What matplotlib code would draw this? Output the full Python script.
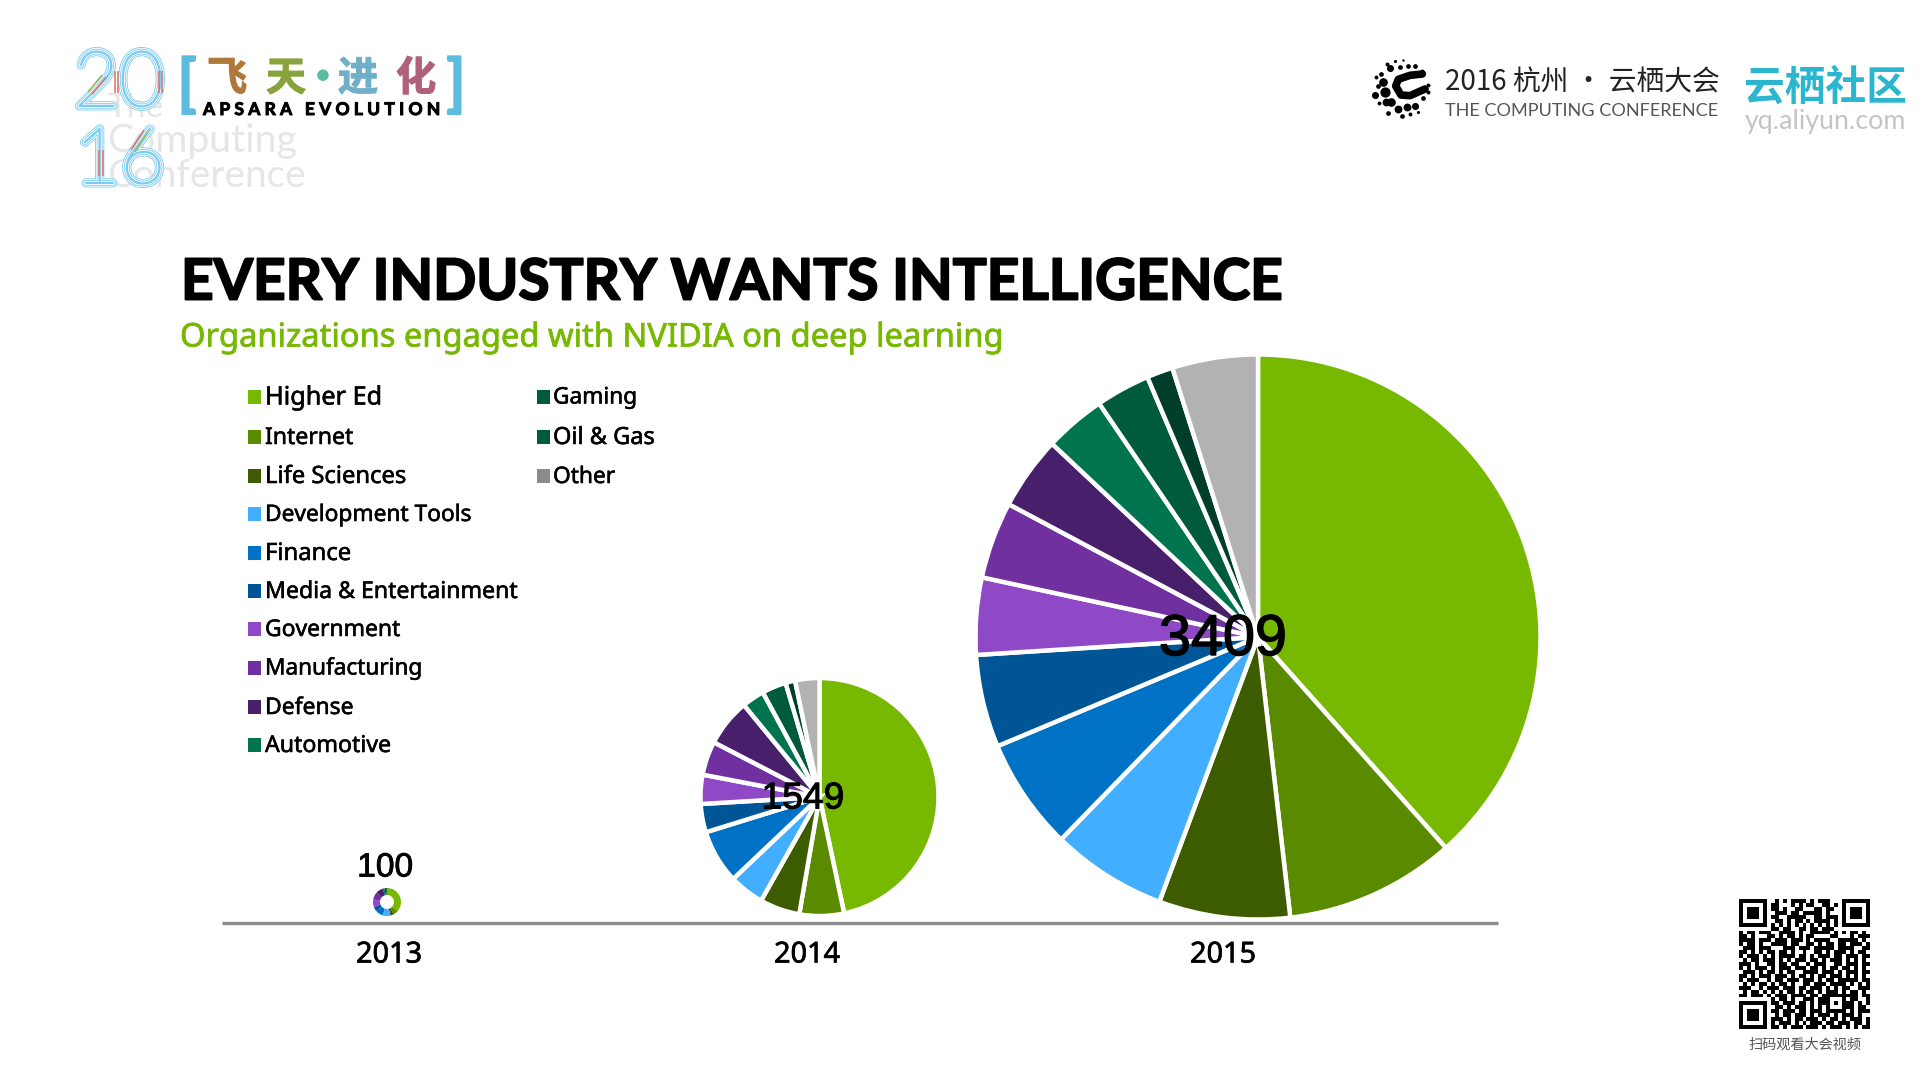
#!/usr/bin/env python3
import numpy as np
import matplotlib
matplotlib.use('Agg')
import matplotlib.pyplot as plt
import matplotlib.patheffects as pe
from matplotlib.patches import Rectangle

CJK = ['Noto Sans CJK SC', 'DejaVu Sans']
TXT = 'Noto Sans'

categories = ['Higher Ed', 'Internet', 'Life Sciences', 'Development Tools', 'Finance',
              'Media & Entertainment', 'Government', 'Manufacturing', 'Defense',
              'Automotive', 'Gaming', 'Oil & Gas', 'Other']
pie_colors = ['#76B900', '#5A8A00', '#3D5C00', '#42AEFF', '#0072C6', '#005596', '#9049C6',
              '#7030A0', '#481F6B', '#00734F', '#005A3C', '#003D2A', '#B2B2B2']
legend_colors = pie_colors[:-3] + ['#005A3C', '#005A3C', '#8C8C8C']

years = ['2013', '2014', '2015']
totals = [100, 1549, 3409]
# share of organisations per industry, percent
share_2013 = [37, 5, 4, 9, 9, 5, 9, 9, 8, 2, 2, 1, 0]
share_2014 = [46.7, 6.05, 5.45, 4.75, 7.3, 3.85, 3.95, 4.6, 6.45, 3.05, 3.3, 1.3, 3.3]
share_2015 = [38.4, 9.75, 7.5, 6.6, 6.4, 5.3, 4.4, 4.4, 4.2, 3.5, 3.1, 1.5, 4.9]

qr_rows = [
    "#######..#.#.####.#.###...#######",
    "#.....#.##...#.#.##..##.#.#.....#",
    "#.###.#.##.#..##...##.##..#.###.#",
    "#.###.#..###.##.#####.#...#.###.#",
    "#.###.#.##..#####..##.###.#.###.#",
    "#.....#..##.#.##.#.####.#.#.....#",
    "#######.#.#.#.#.#.#.#.#.#.#######",
    "........##.##..##.##.###.........",
    "#.##.###..####.#..#####.#.#.##.#.",
    "##.#...##.#.##.#.##....##...#.###",
    "####.###.###.###.#.####..#####.#.",
    "#.##.#..####.##..##.#.##.##.###.#",
    ".###.###...###.###.#####.####..##",
    "##.#.#.##.##.#..#..##.#.###.#.##.",
    "#.###.#.#.####.##.#.###.##.###.##",
    ".#.##.###.#.#.###.##.#.###.#.#.#.",
    "###.#..##.##.##..#.###..##.###.##",
    "#.#.###.#.###.###.##.#.##.##.#.#.",
    ".###.#.##.#.##..####.###.#.###.##",
    "##.#.###.###.#.##.#.##.###.#.#.#.",
    "#.###..#.##.###.###.#.##.#####.##",
    ".#.#.##.#.##.#..##.###.####.#.#.#",
    "###..#.###.###.##.###.#.#.##..###",
    ".#.##.#.#.#.##.#.##.#.###.#.##.#.",
    "##.###.#.###.####.##.#########.##",
    "........#.##.#..###.###...#.##..#",
    "#######.##.###.##.#.###.#.###.#.#",
    "#.....#..##.#.###.#.#.#...###.##.",
    "#.###.#.##.###.##.###.#####.#.###",
    "#.###.#..#.##.###.#.###.#.###.#..",
    "#.###.#.###.#.##.###.#.##.#.###.#",
    "#.....#.#.###.#.#.###.##.###.##.#",
    "#######.##.#.###.###.#.###.#.#.##",
]

W, H = 1919, 1079


def Y(y):
    # picture rows run downwards, the axes upwards
    return H - y


fig = plt.figure(figsize=(W / 100, H / 100), dpi=100, facecolor='white')
ax = fig.add_axes([0, 0, 1, 1])


def fit(t, width):
    # scale the font so the text takes the same pixel width as in the slide
    r = fig.canvas.get_renderer()
    t.set_fontsize(t.get_fontsize() * width / t.get_window_extent(r).width)
    return t


def label(x, y, s, size=12, color='black', ha='left', family=TXT, width=None, heavy=0, **kw):
    t = ax.text(x, Y(y), s, fontsize=size, color=color, ha=ha, va='center',
                family=family, **kw)
    if width:
        fit(t, width)
    if heavy:
        # the installed fonts run lighter than the slide's, thicken with a stroke
        t.set_path_effects([pe.withStroke(linewidth=heavy, foreground=color)])
    return t


# pies
ax.pie(share_2015, colors=pie_colors, center=(1258, Y(637)), radius=282.5, startangle=90,
       counterclock=False, wedgeprops={'edgecolor': 'white', 'linewidth': 3.2})
ax.pie(share_2014, colors=pie_colors, center=(819.5, Y(797)), radius=119, startangle=90,
       counterclock=False, wedgeprops={'edgecolor': 'white', 'linewidth': 3.2})
ax.pie(share_2013, colors=pie_colors, center=(387, Y(902)), radius=14, startangle=90,
       counterclock=False, wedgeprops={'width': 7, 'edgecolor': 'none'})
ax.set_xlim(0, W)
ax.set_ylim(0, H)
ax.set_aspect('equal')
ax.axis('off')

# baseline and year labels
ax.plot([222, 1498], [Y(923), Y(923)], color='#8C8C8C', lw=2.4, solid_capstyle='butt')
for x, yr in zip([389, 807, 1223], years):
    label(x, 955, yr, size=21, ha='center', width=66, heavy=0.5)

# totals
label(385, 868, str(totals[0]), size=27, ha='center', family='Liberation Sans', width=56, heavy=0.6)
label(803, 799, str(totals[1]), size=30, ha='center', family='Liberation Sans', width=83, heavy=0.7)
label(1223, 640, str(totals[2]), size=44, ha='center', family='Liberation Sans', width=128, heavy=1)

# title
label(181, 283, 'EVERY INDUSTRY WANTS INTELLIGENCE', size=42, family='Lato', weight='bold',
      width=1104, heavy=1.4)
label(180, 338, 'Organizations engaged with NVIDIA on deep learning', size=23,
      color='#76B900', width=824, heavy=0.5)

# legend
col1_y = [398, 438, 477, 515, 554, 592, 630, 669, 708, 746]
col2_y = [398, 438, 477]
legend_w = [117, 88, 141, 206, 86, 252, 135, 157, 88, 126, 84, 102, 62]
for i, name in enumerate(categories):
    sx, tx, cy = (248, 265, col1_y[i]) if i < 10 else (537, 553, col2_y[i - 10])
    ax.add_patch(Rectangle((sx, Y(cy + 6)), 13, 14, color=legend_colors[i], lw=0))
    label(tx, cy, name, size=18, width=legend_w[i], heavy=0.4)

# left logo: watermark first, then the striped digits
for y, s, wd in [(108, 'The', 56), (141, 'Computing', 190), (176, 'Conference', 198)]:
    label(107, y, s, size=26, color='#E6E6E6', family='Lato', width=wd)

rail = '#7CCBF0'
rails = [pe.Stroke(linewidth=6, foreground=rail), pe.Stroke(linewidth=4.8, foreground='white'),
         pe.Stroke(linewidth=3.5, foreground=rail), pe.Stroke(linewidth=2.3, foreground='white'),
         pe.Stroke(linewidth=1.0, foreground=rail)]
for x, y, s in [(119, 85, '20'), (120, 162, '16')]:
    t = label(x, y, s, size=56, color='white', ha='center', family='Lato', weight='light')
    t.set_path_effects(rails)

# coloured accents on the rails of the digits
accents = [((115, 71), (115, 93), '#E0705F'), ((118, 71), (118, 93), '#E0705F'),
           ((159, 71), (159, 93), '#E0705F'), ((162, 71), (162, 93), '#E0705F'),
           ((88, 92), (102, 75), '#9DB84A'), ((92, 94), (106, 77), '#E0705F'),
           ((99, 150), (99, 176), '#E0705F'), ((103, 150), (103, 176), '#E0705F'),
           ((131, 150), (144, 130), '#E0705F'), ((135, 152), (148, 132), '#9DB84A')]
for p0, p1, c in accents:
    ax.plot([p0[0], p1[0]], [Y(p0[1]), Y(p1[1])], color=c, lw=1.1, solid_capstyle='butt', zorder=4)

for x, s in [(187, '['), (456, ']')]:
    label(x, 86, s, size=45, color='#5BBCE0', ha='center', family='Lato', weight='bold', heavy=1.2)
for x, s, c in [(227, '飞', '#B0783A'), (286, '天', '#88A23C'), (323, '·', '#5BBCA0'),
                (358, '进', '#6FB0C8'), (416, '化', '#B0607A')]:
    label(x, 79, s, size=29, color=c, ha='center', family=CJK, weight='bold', heavy=0.8)
label(203, 110, 'A P S A R A   E V O L U T I O N', size=10, weight='bold', family='Lato',
      width=237, heavy=0.7)

# right logos
dots = [(60, 125, 13), (55, 95, 11), (75, 55, 9), (62, 155, 10), (30, 135, 9), (40, 108, 6),
        (32, 80, 5), (48, 72, 6), (65, 42, 5), (90, 34, 4), (105, 50, 6), (128, 47, 6),
        (150, 48, 6), (172, 62, 5), (78, 155, 11), (100, 176, 10), (125, 172, 10),
        (150, 168, 9), (175, 145, 6), (190, 125, 5), (190, 105, 5), (70, 188, 6),
        (110, 198, 6), (135, 192, 5), (160, 185, 4), (42, 160, 5), (115, 30, 3)]
for dx, dy, r in dots:
    ax.scatter(1365 + dx / 3, Y(50 + dy / 3), s=(r / 3 * 2 * 0.85) ** 2, color='black', lw=0)
ax.plot([1365 + v / 3 for v in (172, 135, 100, 92, 108, 135, 180)],
        [Y(50 + v / 3) for v in (72, 76, 88, 108, 135, 137, 117)],
        color='black', lw=5.5, solid_capstyle='round', solid_joinstyle='round')

label(1445, 82, '2016 杭州 · 云栖大会', size=24, color='#222222', family=CJK, width=275)
label(1445, 111, 'THE COMPUTING CONFERENCE', size=12, color='#555555', family='Lato', width=274)
label(1744, 88, '云栖社区', size=29.5, color='#2BB5CE', family=CJK, weight='bold', width=163)
label(1745, 121, 'yq.aliyun.com', size=17, color='#C4C4C4', family='Lato', width=161)

# QR code
qr = np.array([[c == '#' for c in r[:33].ljust(33, '.')] for r in qr_rows])
ax.imshow(~qr, cmap='gray', extent=(1739, 1870, Y(1029), Y(899)), interpolation='nearest',
          aspect='equal', zorder=2)
ax.set_xlim(0, W)
ax.set_ylim(0, H)
label(1805, 1045, '扫码观看大会视频', size=10, color='#555555', ha='center', family=CJK, width=113)

fig.savefig('out.png', dpi=100, facecolor='white')
